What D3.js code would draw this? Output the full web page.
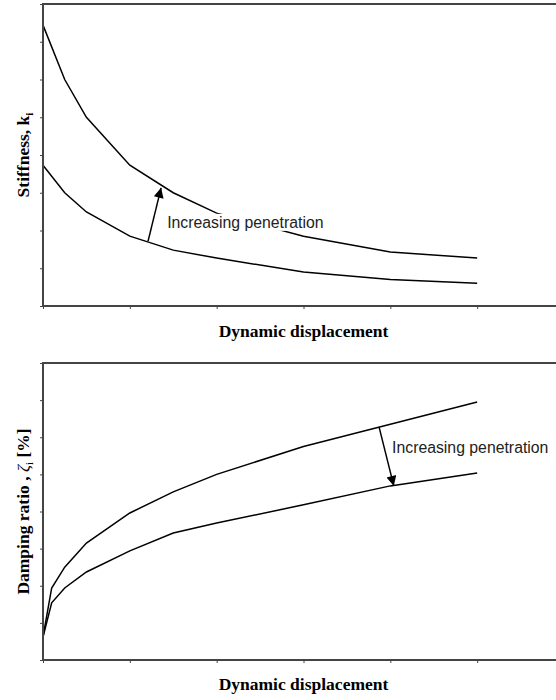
<!DOCTYPE html>
<html>
<head>
<meta charset="utf-8">
<script src="https://cdn.jsdelivr.net/npm/d3@7"></script>
<style>
  body { margin: 0; background: #fff; }
</style>
</head>
<body>
<div class="chart"></div>
<script>
// displacement values (arbitrary units, no labels on the original)
const xTicks = [0, 1, 2, 3, 4, 5, 6];
const yTicks = [0, 1, 2, 3, 4, 5, 6, 7, 8];

const stiffX = [0, 0.25, 0.5, 1, 1.5, 2, 3, 4, 5];
const stiffLow = [7.44, 6.0, 5.0, 3.73, 3.0, 2.46, 1.85, 1.43, 1.27];
const stiffHigh = [3.73, 3.0, 2.49, 1.85, 1.48, 1.27, 0.9, 0.7, 0.6];

const dampX = [0, 0.1, 0.25, 0.5, 1, 1.5, 2, 3, 4, 5];
const dampLow = [0.62, 1.94, 2.5, 3.15, 3.96, 4.53, 5.0, 5.75, 6.35, 6.95];
const dampHigh = [0.62, 1.54, 1.94, 2.37, 2.94, 3.42, 3.69, 4.18, 4.69, 5.04];

const annotation = "Increasing penetration";
// arrow from / to, in data units
const stiffArrow = [[1.21, 1.72], [1.36, 3.13]];
const dampArrow = [[3.87, 6.28], [4.04, 4.69]];
const stiffLabel = [1.43, 2.07];
const dampLabel = [4.02, 5.58];

const svg = d3.select(".chart")
  .append("svg")
    .attr("width", 556)
    .attr("height", 700);

svg.append("defs")
  .append("marker")
    .attr("id", "head")
    .attr("viewBox", "0 0 10 10")
    .attr("refX", 10)
    .attr("refY", 5)
    .attr("markerUnits", "userSpaceOnUse")
    .attr("markerWidth", 17)
    .attr("markerHeight", 10)
    .attr("orient", "auto")
  .append("path")
    .attr("d", "M0,0 L10,5 L0,10 Z")
    .attr("fill", "#000");

const xScale = d3.scaleLinear()
  .domain([0, 6])
  .range([43, 564]);

const drawPanel = (top, bottom, xs, curves, arrow, labelPos, yTitle, xTitleY) => {
  const yScale = d3.scaleLinear()
    .domain([0, 8])
    .range([bottom, top]);

  const g = svg.append("g");

  g.append("g")
    .attr("transform", `translate(0, ${bottom})`)
    .call(d3.axisBottom(xScale).tickValues(xTicks).tickSize(3).tickFormat(""))
    .call(a => a.select(".domain").remove())
    .selectAll("line").attr("stroke", "#444");

  g.append("g")
    .attr("transform", `translate(43, 0)`)
    .call(d3.axisLeft(yScale).tickValues(yTicks).tickSize(3).tickFormat(""))
    .call(a => a.select(".domain").remove())
    .selectAll("line").attr("stroke", "#444");

  const line = d3.line()
    .x(d => xScale(d[0]))
    .y(d => yScale(d[1]));

  curves.forEach(c => {
    g.append("path")
      .datum(xs.map((x, i) => [x, c[i]]))
      .attr("d", line)
      .attr("fill", "none")
      .attr("stroke", "#000")
      .attr("stroke-width", 1.5);
  });

  // label with white box behind it
  const label = g.append("text")
    .text(annotation)
    .attr("x", xScale(labelPos[0]))
    .attr("y", yScale(labelPos[1]))
    .style("font-family", "'Liberation Sans', Arial, sans-serif")
    .style("font-size", "15.8px")
    .attr("fill", "#222");
  const bb = label.node().getBBox();
  g.insert("rect", () => label.node())
    .attr("x", bb.x - 1)
    .attr("y", bb.y)
    .attr("width", bb.width + 2)
    .attr("height", bb.height)
    .attr("fill", "#fff");

  g.append("line")
    .attr("x1", xScale(arrow[0][0]))
    .attr("y1", yScale(arrow[0][1]))
    .attr("x2", xScale(arrow[1][0]))
    .attr("y2", yScale(arrow[1][1]))
    .attr("stroke", "#000")
    .attr("stroke-width", 1.5)
    .attr("marker-end", "url(#head)");

  // frame: left, top, bottom
  g.append("path")
    .attr("d", `M564,${top} H43 V${bottom} H564`)
    .attr("fill", "none")
    .attr("stroke", "#444")
    .attr("stroke-width", 2);

  g.append("text")
    .text("Dynamic displacement")
    .attr("x", (43 + 564) / 2)
    .attr("y", xTitleY)
    .attr("text-anchor", "middle")
    .style("font-family", "'Liberation Serif', 'Times New Roman', serif")
    .style("font-weight", "bold")
    .style("font-size", "17.5px");

  const yt = g.append("text")
    .attr("transform", `translate(29, ${(top + bottom) / 2}) rotate(-90)`)
    .attr("text-anchor", "middle")
    .style("font-family", "'Liberation Serif', 'Times New Roman', serif")
    .style("font-weight", "bold")
    .style("font-size", "17.5px");
  yTitle(yt);
};

drawPanel(4, 306, stiffX, [stiffLow, stiffHigh], stiffArrow, stiffLabel, t => {
  t.append("tspan").text("Stiffness, k");
  t.append("tspan").text("i").attr("dy", 4).style("font-size", "11px");
}, 337);

drawPanel(363, 660, dampX, [dampLow, dampHigh], dampArrow, dampLabel, t => {
  t.append("tspan").text("Damping ratio , ");
  t.append("tspan").text("ζ").style("font-style", "italic").style("font-weight", "normal");
  t.append("tspan").text("i").attr("dy", 4).style("font-size", "11px").style("font-weight", "normal");
  t.append("tspan").text(" [%]").attr("dy", -4);
}, 690);
</script>
</body>
</html>
